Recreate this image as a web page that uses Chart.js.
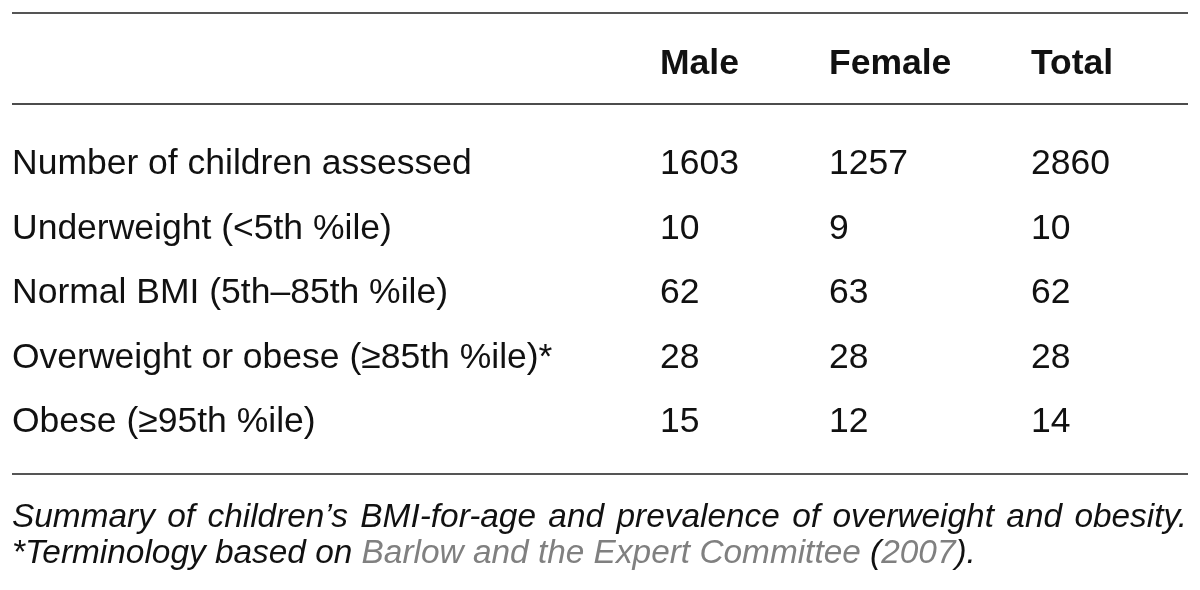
<!DOCTYPE html>
<html>
<head>
<meta charset="utf-8">
<script src="https://cdn.jsdelivr.net/npm/chart.js@4"></script>
<style>
  html, body { margin: 0; padding: 0; background: #fff; }
  #tableChart { display: block; }
</style>
</head>
<body>
<canvas id="tableChart" width="1200" height="590"></canvas>
<script>
// table content
const columns = ['Male', 'Female', 'Total'];
const rowLabels = [
  'Number of children assessed',
  'Underweight (<5th %ile)',
  'Normal BMI (5th\u201385th %ile)',
  'Overweight or obese (\u226585th %ile)*',
  'Obese (\u226595th %ile)'
];
const male = [1603, 10, 62, 28, 15];
const female = [1257, 9, 63, 28, 12];
const total = [2860, 10, 62, 28, 14];
const captionLine1 = 'Summary of children\u2019s BMI-for-age and prevalence of overweight and obesity.';
const captionLine2 = [
  ['*Terminology based on ', 'ink'],
  ['Barlow and the Expert Committee', 'link'],
  [' (', 'ink'],
  ['2007', 'link'],
  [').', 'ink']
];

// layout
const FONT = '"Liberation Sans", Arial, Helvetica, sans-serif';
const colLeft = [660, 829, 1031];
const labelLeft = 12;
const ruleLeft = 12, ruleRight = 1188;
const colours = { ink: '#111111', link: '#808080', rule: '#555555', headRule: '#111111' };

const seriesByColumn = [male, female, total];

// each cell is a point; the plugin writes its value where the scales put it
const datasets = columns.map((name, j) => ({
  label: name,
  data: rowLabels.map((r, i) => ({ x: colLeft[j], y: r, v: seriesByColumn[j][i] })),
  pointRadius: 0,
  pointHoverRadius: 0
}));

const tablePlugin = {
  id: 'tablePlugin',
  afterDraw(chart) {
    const ctx = chart.ctx;
    const area = chart.chartArea;
    const xs = chart.scales.x;
    const ys = chart.scales.y;
    ctx.save();
    ctx.textBaseline = 'alphabetic';
    ctx.textAlign = 'left';

    // rules
    const hline = (y, w, c) => {
      ctx.beginPath();
      ctx.lineWidth = w;
      ctx.strokeStyle = c;
      ctx.moveTo(xs.getPixelForValue(ruleLeft), y);
      ctx.lineTo(xs.getPixelForValue(ruleRight), y);
      ctx.stroke();
    };
    hline(area.top - 161, 2, colours.rule);
    hline(area.top - 70, 1.6, colours.headRule);
    hline(area.bottom + 42, 2, colours.rule);

    // header
    ctx.fillStyle = colours.ink;
    ctx.font = 'bold 35.5px ' + FONT;
    columns.forEach((c, j) => ctx.fillText(c, xs.getPixelForValue(colLeft[j]), area.top - 100));

    // row labels
    ctx.font = '35.5px ' + FONT;
    rowLabels.forEach((r, i) => ctx.fillText(r, xs.getPixelForValue(labelLeft), ys.getPixelForValue(i)));

    // cells
    chart.data.datasets.forEach((ds, j) => {
      chart.getDatasetMeta(j).data.forEach((pt, i) => {
        ctx.fillText(String(ds.data[i].v), pt.x, pt.y);
      });
    });

    // caption, first line justified to the table width
    ctx.font = 'italic 33.4px ' + FONT;
    const y1 = area.bottom + 95;
    const left = xs.getPixelForValue(ruleLeft);
    const right = xs.getPixelForValue(ruleRight) - 1;
    const words = captionLine1.split(' ');
    const wordsW = words.reduce((s, w) => s + ctx.measureText(w).width, 0);
    const gap = (right - left - wordsW) / (words.length - 1);
    let cx = left;
    words.forEach(w => {
      ctx.fillText(w, cx, y1);
      cx += ctx.measureText(w).width + gap;
    });

    // second line, reference in grey
    cx = left;
    const y2 = y1 + 36;
    captionLine2.forEach(([txt, col]) => {
      ctx.fillStyle = colours[col];
      ctx.fillText(txt, cx, y2);
      cx += ctx.measureText(txt).width;
    });
    ctx.restore();
  }
};

new Chart(document.getElementById('tableChart').getContext('2d'), {
  type: 'scatter',
  data: { datasets: datasets },
  options: {
    responsive: false,
    animation: false,
    devicePixelRatio: 1,
    layout: { padding: { top: 174, bottom: 158, left: 0, right: 0 } },
    plugins: { legend: { display: false }, tooltip: { enabled: false } },
    scales: {
      x: { type: 'linear', min: 0, max: 1200, display: false },
      y: { type: 'category', labels: rowLabels, offset: false, display: false }
    }
  },
  plugins: [tablePlugin]
});
</script>
</body>
</html>
